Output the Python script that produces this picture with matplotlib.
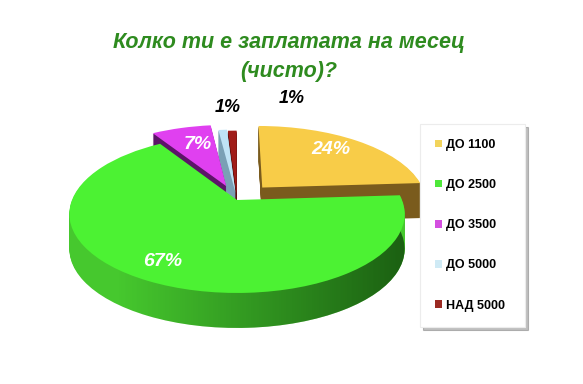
import numpy as np
import matplotlib
matplotlib.use('Agg')
import matplotlib.pyplot as plt
import matplotlib.transforms as mtransforms
from matplotlib.patches import Patch

plt.rcParams['font.family'] = ['Liberation Sans', 'DejaVu Sans']

# data
labels = ['ДО 1100', 'ДО 2500', 'ДО 3500', 'ДО 5000', 'НАД 5000']
values = [24, 67, 7, 1, 1]
title = 'Колко ти е заплатата на месец\n(чисто)?'

top_colors = ['#f8cc48', '#4cf233', '#e040f0', '#bfe3f5', '#a01c18']
side_colors = ['#7a5b1d', '#46c82e', '#5c1468', '#7aa0b5', '#5a0f0c']
legend_colors = ['#f2d45c', '#4ee83a', '#d44fe0', '#cfeaf5', '#9b2a22']
explode = [0.23, 0.0, 0.2, 0.1, 0.08]

# label placement (radius, angle shift in degrees, colour)
lbl_radius = [0.75, 0.81, 0.67, 1.45, 1.72]
lbl_shift = [3, -2, -2, -3, -16.5]
lbl_color = ['white', 'white', 'white', 'black', 'black']

W, H = 583, 384
# pie projection: centre, radii (pixels), perspective strength, wall height
cx, cy, rx, ry, persp = 237, 200, 165, 76.5, 0.177
wall = 35
n_layers = 35


class Perspective(mtransforms.Transform):
    """Project the flat pie (unit disc) onto a tilted plane, pixel output."""
    input_dims = output_dims = 2

    def transform_non_affine(self, values):
        xy = np.asarray(values, dtype=float)
        s = 1.0 / (1.0 + persp * xy[:, 1])
        return np.column_stack([cx + rx * xy[:, 0] * s, cy - ry * xy[:, 1] * s])


fig = plt.figure(figsize=(W / 100, H / 100), dpi=100)
ax = fig.add_axes([0, 0, 1, 1])
proj = Perspective()

# side walls: stack of darker pies shifted down
bottom_green = None
for k in range(n_layers, 0, -1):
    tr = proj + mtransforms.Affine2D().translate(0, wall * k / n_layers) + ax.transData
    ws, _ = ax.pie(values, colors=side_colors, explode=explode, startangle=90,
                   counterclock=False, wedgeprops=dict(linewidth=0))
    for w in ws:
        w.set_transform(tr)
        w.set_zorder(1)
    if bottom_green is None:
        bottom_green = ws[1]

# shading on the green wall (light on the left, dark on the right)
ramp = np.linspace(0, 1, 256)
shade = np.zeros((2, 256, 4))
shade[..., 1] = 0.12
shade[..., 3] = np.clip((ramp - 0.2) / 0.5, 0, 1) * 0.62
img = ax.imshow(shade, extent=(0, W, H, 0), interpolation='bilinear', zorder=1.5)
img.set_clip_path(bottom_green)

# top surface
top_tr = proj + ax.transData
wedges, _ = ax.pie(values, colors=top_colors, explode=explode, startangle=90,
                   counterclock=False, wedgeprops=dict(linewidth=0))
for w in wedges:
    w.set_transform(top_tr)
    w.set_zorder(2)

for w, v, r, sh, c in zip(wedges, values, lbl_radius, lbl_shift, lbl_color):
    mid = np.deg2rad((w.theta1 + w.theta2) / 2 + sh)
    x = w.center[0] + r * np.cos(mid)
    y = w.center[1] + r * np.sin(mid)
    ax.text(x, y, f'{v}%', ha='center', va='center', color=c,
            transform=top_tr, fontsize=14 if c == 'white' else 13,
            fontweight='bold', fontstyle='italic', zorder=10)

ax.set_aspect('auto')
ax.set_xlim(0, W)
ax.set_ylim(H, 0)
ax.axis('off')

fig.text(0.496, 1 - 57 / H, title, ha='center', va='center', color='#2e8b1f',
         fontsize=15.5, fontweight='bold', fontstyle='italic', linespacing=1.45)

handles = [Patch(facecolor=c, edgecolor='none') for c in legend_colors]
leg = fig.legend(handles, labels, loc='upper left', mode='expand',
                 bbox_to_anchor=(420 / W, 1 - 323 / H, 105 / W, 199 / H),
                 frameon=True, fancybox=False,
                 shadow=dict(ox=2.5, oy=-2.5, alpha=0.35),
                 handlelength=0.55, handleheight=0.55, handletextpad=0.3,
                 labelspacing=2.25, borderpad=1.2, borderaxespad=0,
                 prop=dict(size=9, weight='bold'))
leg.get_frame().set_edgecolor('#ececec')
leg.get_frame().set_linewidth(0.8)

fig.savefig('out.png', dpi=100)
